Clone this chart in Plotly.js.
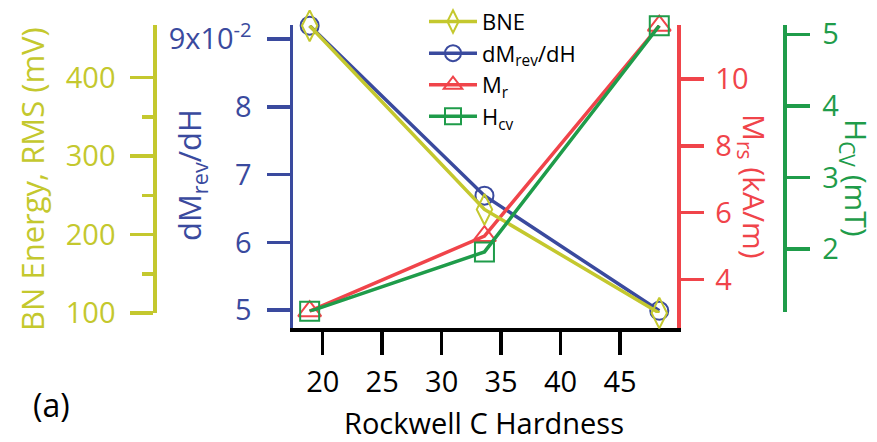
<!DOCTYPE html>
<html>
<head>
<meta charset="utf-8">
<script src="https://cdn.plot.ly/plotly-3.0.1.min.js"></script>
<style>html,body{margin:0;padding:0;background:#fff}#chart{width:877px;height:442px}</style>
</head>
<body>
<div id="chart"></div>
<script>
// Data
const hardness = [18.9, 33.6, 48.3];           // Rockwell C Hardness
const bne = [466, 232, 100];                   // BN Energy, RMS (mV)
const dMrevdH = [0.0920, 0.0669, 0.0499];      // dMrev/dH
const mr = [3.05, 5.3, 11.6];                  // Mrs (kA/m)
const hcv = [1.13, 1.96, 5.12];                // Hcv (mT)

const xTicks = [20, 25, 30, 35, 40, 45];
const bneTicks = [100, 200, 300, 400];
const bneMinor = [150, 250, 350];
const dmTicks = [0.05, 0.06, 0.07, 0.08, 0.09];
const dmTickText = ['5', '6', '7', '8', '9x10<sup>-2</sup>'];
const mrTicks = [4, 6, 8, 10];
const hcvTicks = [2, 3, 4, 5];

const YEL = '#c4c82e', BLU = '#3a4a9e', RED = '#f0444a', GRN = '#1f9c4a';
const FONT = 'Open Sans, Noto Sans, sans-serif';
const W = 877, H = 442, T = 25, B = 114;
const px = v => v / W;
const py = v => (H - B - v) / (H - B - T);

function tr(name, y, yaxis, color, symbol, size) {
  return {
    x: hardness, y: y, name: name, yaxis: yaxis, type: 'scatter', mode: 'lines+markers',
    line: {color: color, width: 3.5},
    marker: {symbol: symbol, size: size, color: color, line: {color: color, width: 2}},
    cliponaxis: false
  };
}

const data = [
  tr('BNE', bne, 'y2', YEL, 'diamond-tall-open', 22),
  tr('dM<sub>rev</sub>/dH', dMrevdH, 'y', BLU, 'circle-open', 18),
  tr('M<sub>r</sub>', mr, 'y3', RED, 'triangle-up-open', 20),
  tr('H<sub>cv</sub>', hcv, 'y4', GRN, 'square-open', 19)
];

function yax(color, extra) {
  return Object.assign({
    showgrid: false, zeroline: false, showline: true, linecolor: color, linewidth: 3.5,
    ticks: 'outside', ticklen: 23, tickwidth: 3.5, tickcolor: color,
    tickfont: {family: FONT, size: 29, color: color}, tickmode: 'array',
    ticklabelstandoff: 9, fixedrange: true
  }, extra);
}

const layout = {
  width: W, height: H,
  margin: {l: 0, r: 0, t: T, b: B, pad: 0},
  paper_bgcolor: '#fff', plot_bgcolor: 'rgba(0,0,0,0)',
  font: {family: FONT},
  showlegend: true,
  legend: {x: px(424), y: 1.08, xanchor: 'left', yanchor: 'top', bgcolor: 'rgba(0,0,0,0)',
           font: {family: FONT, size: 22, color: '#000'}, tracegroupgap: 0, itemwidth: 48},
  xaxis: {
    domain: [px(293), px(677)], range: [17.5, 49.79], anchor: 'y',
    showgrid: false, zeroline: false, showline: true, linecolor: '#000', linewidth: 3.5,
    ticks: 'outside', ticklen: 23, tickwidth: 3.5, tickcolor: '#000',
    tickmode: 'array', tickvals: xTicks,
    tickfont: {family: FONT, size: 29, color: '#000'}, ticklabelstandoff: 3, fixedrange: true
  },
  yaxis: yax(BLU, {anchor: 'x', side: 'left', range: [0.04736, 0.0921],
                   tickvals: dmTicks, ticktext: dmTickText}),
  yaxis2: yax(YEL, {anchor: 'free', position: px(154.3), side: 'left',
                    domain: [py(313), 1], range: [100, 467], tickvals: bneTicks,
                    minor: {tickmode: 'array', tickvals: bneMinor, ticklen: 11, tickwidth: 3.5,
                            tickcolor: YEL, ticks: 'outside', showgrid: false}}),
  yaxis3: yax(RED, {anchor: 'x', overlaying: 'y', side: 'right', range: [2.546, 11.62],
                    tickvals: mrTicks, ticklabelstandoff: 6}),
  yaxis4: yax(GRN, {anchor: 'free', position: px(784), side: 'right',
                    domain: [py(311.7), 1], range: [1.125, 5.13], tickvals: hcvTicks,
                    ticklabelstandoff: 7}),
  annotations: [
    {text: 'BN Energy, RMS (mV)', xref: 'paper', yref: 'paper', x: px(32), y: py(179),
     textangle: -90, showarrow: false, xanchor: 'center', yanchor: 'middle',
     font: {family: FONT, size: 31, color: YEL}},
    {text: 'dM<sub>rev</sub>/dH', xref: 'paper', yref: 'paper', x: px(191), y: py(175),
     textangle: -90, showarrow: false, xanchor: 'center', yanchor: 'middle',
     font: {family: FONT, size: 31, color: BLU}},
    {text: 'M<sub>rs</sub> (kA/m)', xref: 'paper', yref: 'paper', x: px(753), y: py(186),
     textangle: 90, showarrow: false, xanchor: 'center', yanchor: 'middle',
     font: {family: FONT, size: 30, color: RED}},
    {text: 'H<sub>CV</sub> (mT)', xref: 'paper', yref: 'paper', x: px(855), y: py(178),
     textangle: 90, showarrow: false, xanchor: 'center', yanchor: 'middle',
     font: {family: FONT, size: 30, color: GRN}},
    {text: 'Rockwell C Hardness', xref: 'paper', yref: 'paper', x: px(484), y: py(422),
     showarrow: false, xanchor: 'center', yanchor: 'middle',
     font: {family: FONT, size: 29, color: '#000'}},
    {text: '(a)', xref: 'paper', yref: 'paper', x: px(51), y: py(404),
     showarrow: false, xanchor: 'center', yanchor: 'middle',
     font: {family: FONT, size: 32, color: '#000'}}
  ]
};

Plotly.newPlot('chart', data, layout, {displayModeBar: false, staticPlot: true});
</script>
</body>
</html>
